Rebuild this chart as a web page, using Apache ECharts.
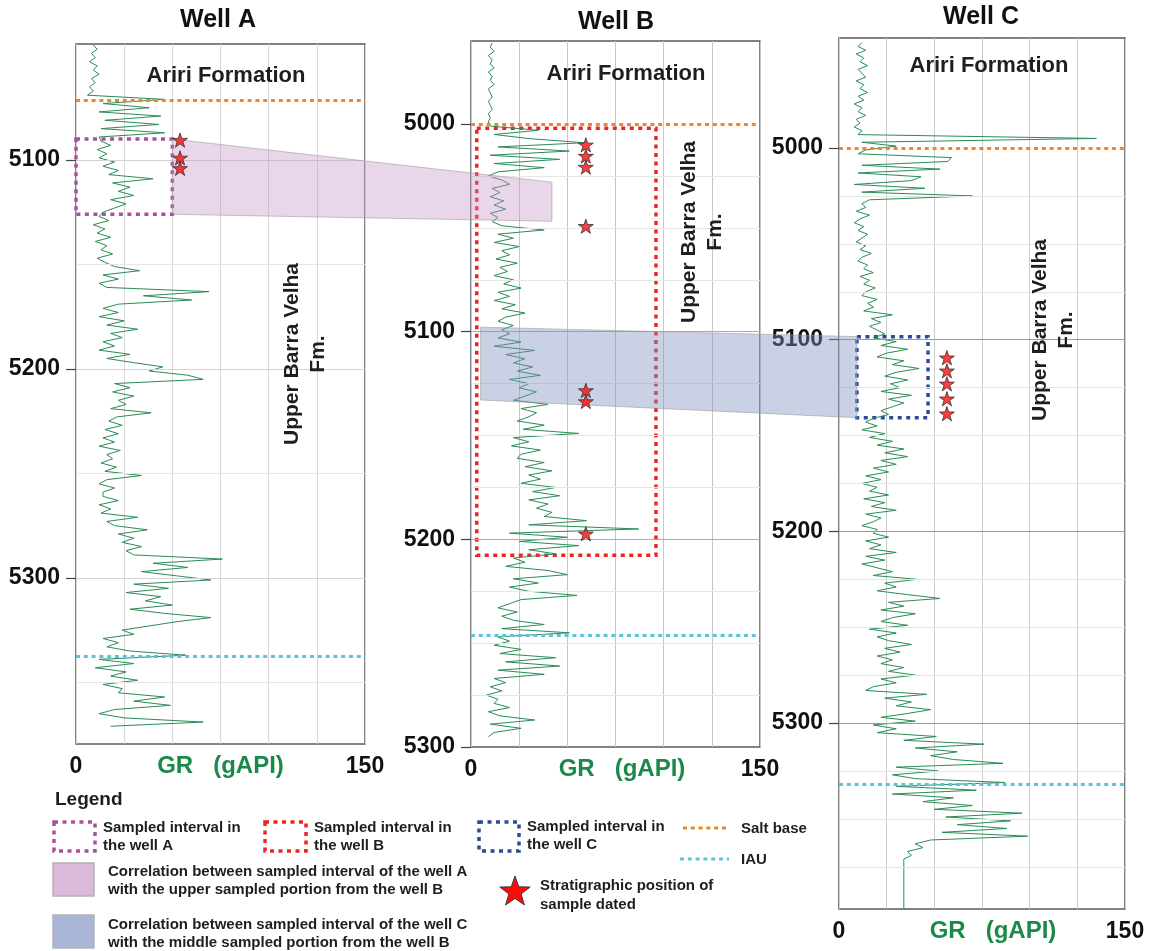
<!DOCTYPE html>
<html><head><meta charset="utf-8">
<script src="https://cdn.jsdelivr.net/npm/echarts@6/dist/echarts.min.js"></script>
<style>html,body{margin:0;padding:0;background:#fff}#c{width:1153px;height:951px}</style>
</head><body><div id="c"></div>
<script>
// ---------------- DATA ----------------
const wellNames = ['Well A', 'Well B', 'Well C'];
const grTickLabels = [0, 150];
const depthLabelsA = [5100, 5200, 5300];
const depthLabelsB = [5000, 5100, 5200, 5300];
const depthLabelsC = [5000, 5100, 5200, 5300];

// GR log (gAPI), sampled every 2 ft starting at the top depth of each well
const sampleStep = 2;
const wellA_top = 5045;
const wellA_gr = [9, 11, 8, 10, 7, 11, 9, 12, 8, 10, 7, 9, 6,
 46, 14, 38, 12, 44, 15, 43, 13, 46, 12,
 13, 18, 11, 16, 12, 20, 14, 22, 17, 40, 19, 28, 22, 30, 18, 26, 20, 14,
 12, 17, 9, 15, 11, 18, 10, 16, 13, 19, 11, 15,
 20, 33, 14, 22, 12,
 16, 69, 35, 60, 22,
 14, 22, 12, 25, 16, 32, 18, 24, 14, 20, 12, 28, 16,
 30, 45, 38, 58, 66,
 20, 28, 19, 30, 22, 26, 18, 39, 21, 17, 24, 15, 22, 14, 20, 12, 23, 16, 19, 13, 21, 15, 34, 16, 12, 20, 14,
 14, 22, 12, 18, 13, 32, 16, 20, 37, 22, 30, 24, 34, 26, 30,
 76, 40, 58, 34, 52, 70, 30, 48, 26, 44, 36, 50, 28, 46, 70,
 52, 38, 24, 30, 14, 22, 16, 28,
 57, 12, 30, 10, 26, 18, 32, 14, 24, 22, 46, 30, 49, 20, 12, 25, 66, 18];

const wellB_top = 4961;
const wellB_gr = [11, 10, 12, 9, 11, 10, 12, 9, 11, 10, 12, 9, 10, 11, 9, 10, 11, 9, 10, 9,
 10, 35, 12, 30, 59, 14, 51, 10, 46, 12,
 38, 14, 9, 16, 20, 11, 15, 10, 17, 12, 18, 10, 14, 11, 16,
 38, 14, 22, 12, 25, 16, 20, 13, 24, 15, 19, 12, 22, 17, 26, 14, 20, 12, 23, 16, 28, 18, 14, 22, 16,
 20, 14, 26, 12, 33, 18, 28, 22, 32, 24, 36, 20, 30, 25, 34,
 28, 22, 40, 26, 34, 30, 24, 38, 27, 56, 22, 30, 21, 36, 26,
 24, 38, 28, 42, 30, 36, 26, 44, 32, 46, 30, 40, 34, 42, 38,
 60, 30, 87, 20, 50, 25, 56, 30, 44, 22,
 28, 18, 40, 50, 22, 35, 20, 30, 55, 26, 20, 14, 24, 16, 22,
 38, 16, 51, 14, 20, 12, 26, 15, 44, 18, 46, 14, 38, 12, 18,
 10, 16, 8, 14, 12, 20, 9, 15, 33, 10, 26, 12, 9];

const wellC_top = 4945;
const wellC_gr = [12, 10, 14, 9, 13, 11, 15, 10, 12, 14, 9, 13, 11, 15, 10, 13, 8, 12, 10, 14, 9, 11, 8, 12, 10,
 135,
 12, 30, 14, 10, 59, 57, 12, 53, 10, 43, 38, 8, 45, 12, 70, 16, 12,
 14, 9, 16, 11, 8, 13, 10, 15, 12, 9, 14, 11, 17, 12, 10, 15, 13, 18, 11, 16, 13, 19, 14, 12, 20, 15, 18, 13, 28, 17, 22, 16, 20,
 24, 18, 30, 22, 36, 25, 20, 34, 28, 42, 30, 24, 36, 27, 32, 22, 38, 26, 34, 28, 22, 26, 18,
 14, 20, 12, 24, 16, 28, 20, 34, 24, 36, 22, 30, 18, 26, 14, 22, 12, 20, 16, 26, 13, 24, 17, 30, 14, 22, 18, 12, 20,
 18, 26, 14, 22, 16, 30, 14, 24, 12, 20, 28, 18, 41, 24, 30, 20, 36, 53, 26, 34, 22, 40, 28,
 22, 36, 16, 30, 20, 26, 38, 24, 32, 20, 28, 22, 34, 26, 40, 22, 30, 18, 14, 46, 24, 38, 30, 48, 36, 22, 40,
 18, 30, 20, 51, 34, 76, 40, 62, 48, 60, 86, 30, 52, 28,
 40, 87, 30, 72, 28, 60, 44, 70, 50, 96, 56, 90, 62, 88, 54, 99,
 48, 40, 44, 36, 38, 34,
 34, 34, 34, 34, 34, 34, 34, 34, 34, 34, 34, 34, 34];

// formation tops (depth)
const saltBaseDepth = [5071.3, 5000, 5000];
const iauDepth = [5337.3, 5246.3, 5331.8];

// sampled intervals [top, base] and dated sample depths
const sampledIntervalA = [5090, 5126];
const sampledIntervalB = [5002, 5207.7];
const sampledIntervalC = [5098.4, 5140.7];
const datedSamplesA = [5090.5, 5099, 5104];
const datedSamplesB = [5010, 5015.4, 5020.7, 5049.2, 5128.3, 5133.6, 5197.3];
const datedSamplesC = [5109.4, 5116.2, 5123, 5130.8, 5138.6];

// correlations: depth pairs on each well
const corrA_fromA = [5090, 5126];
const corrA_toB = [5028, 5046.8];
const corrC_fromB = [5097.8, 5132.9];
const corrC_toC = [5098.4, 5140.7];

// depth grid lines
const gridMajorA = [5100, 5200, 5300];
const gridMinorA = [5150, 5250, 5350];
const gridMajorB = [5100, 5200];
const gridMinorB = [5025, 5050, 5075, 5125, 5150, 5175, 5225, 5250, 5275];
const gridMajorC = [5100, 5200, 5300];
const gridMinorC = [5025, 5050, 5075, 5125, 5150, 5175, 5225, 5250, 5275, 5325, 5350, 5375];

// ---------------- CHART ----------------
const FONT = '"Liberation Sans", Arial, Helvetica, sans-serif';
const STAR = 'path://M0,-10 L2.245,-3.09 L9.511,-3.09 L3.633,1.18 L5.878,8.09 L0,3.82 L-5.878,8.09 L-3.633,1.18 L-9.511,-3.09 L-2.245,-3.09 Z';

const wells = [
  {gr: wellA_gr, top: wellA_top, yMin: 5044.5, yMax: 5379.5, labels: depthLabelsA, major: gridMajorA, minor: gridMinorA,
   box: sampledIntervalA, boxGR: [0, 50], boxColor: '#aa4fa0', stars: datedSamplesA, starGR: 54,
   grid: {left: 76, top: 44, width: 289, height: 700}, vColor: '#d8d8d8', majorColor: '#d2d2d2', namePad: 0},
  {gr: wellB_gr, top: wellB_top, yMin: 4960, yMax: 5300, labels: depthLabelsB, major: gridMajorB, minor: gridMinorB,
   box: sampledIntervalB, boxGR: [3, 96], boxColor: '#ee2424', stars: datedSamplesB, starGR: 59.6,
   grid: {left: 471, top: 41, width: 289, height: 706}, vColor: '#c8c8c8', majorColor: '#aaaaaa', namePad: 13},
  {gr: wellC_gr, top: wellC_top, yMin: 4942.6, yMax: 5397, labels: depthLabelsC, major: gridMajorC, minor: gridMinorC,
   box: sampledIntervalC, boxGR: [9.4, 46.7], boxColor: '#2a4a9c', stars: datedSamplesC, starGR: 56.6,
   grid: {left: 839, top: 38, width: 286, height: 871}, vColor: '#cccccc', majorColor: '#9a9a9a', namePad: 22}
];

const grids = [], xAxes = [], yAxes = [], series = [];
wells.forEach((w, i) => {
  grids.push(Object.assign({show: true, borderColor: '#5a5a5a', borderWidth: 1.5, backgroundColor: 'rgba(0,0,0,0)'}, w.grid));
  xAxes.push({
    type: 'value', gridIndex: i, min: 0, max: 150, interval: 25, position: 'bottom',
    axisLine: {show: false}, axisTick: {show: false},
    axisLabel: {customValues: grTickLabels, fontSize: 23, fontWeight: 'bold', color: '#111', margin: 11, fontFamily: FONT},
    splitLine: {show: true, lineStyle: {color: w.vColor, width: 1}},
    name: 'GR   (gAPI)', nameLocation: 'middle', nameGap: 10, nameMoveOverlap: false,
    nameTextStyle: {color: '#1b8a48', fontSize: 24, fontWeight: 'bold', fontFamily: FONT, verticalAlign: 'top', padding: [0, 0, 0, w.namePad]}
  });
  yAxes.push({
    type: 'value', gridIndex: i, inverse: true, min: w.yMin, max: w.yMax,
    axisLine: {show: false},
    axisTick: {show: true, customValues: w.labels, length: 10, lineStyle: {color: '#444', width: 1.2}},
    axisLabel: {customValues: w.labels, formatter: v => String(v), fontSize: 23, fontWeight: 'bold', color: '#111', margin: 16, fontFamily: FONT},
    splitLine: {show: false}
  });
  // depth grid lines
  series.push({
    type: 'line', xAxisIndex: i, yAxisIndex: i, data: [], z: 1, silent: true,
    markLine: {silent: true, symbol: ['none', 'none'], label: {show: false}, animation: false,
      data: w.minor.map(d => ({yAxis: d, lineStyle: {color: '#e6e6e6', width: 1, type: 'solid'}}))
        .concat(w.major.map(d => ({yAxis: d, lineStyle: {color: w.majorColor, width: 1, type: 'solid'}})))}
  });
  // GR curve
  series.push({
    type: 'line', name: wellNames[i] + ' GR', xAxisIndex: i, yAxisIndex: i, z: 2, silent: true,
    showSymbol: false, symbol: 'none',
    lineStyle: {color: '#2a8c55', width: 1},
    data: w.gr.map((g, k) => [g, w.top + k * sampleStep])
  });
  // formation tops + sampled interval
  series.push({
    type: 'line', xAxisIndex: i, yAxisIndex: i, data: [], z: 3, silent: true,
    markLine: {silent: true, symbol: ['none', 'none'], label: {show: false}, animation: false,
      data: [
        {yAxis: saltBaseDepth[i], lineStyle: {color: '#f0852a', width: 3, type: [4, 3.8]}},
        {yAxis: iauDepth[i], lineStyle: {color: '#5bc3dc', width: 3, type: [4, 3.8]}}
      ]},
    markArea: {silent: true, animation: false,
      itemStyle: {color: 'rgba(0,0,0,0)', borderColor: w.boxColor, borderWidth: 3.5, borderType: [4, 4.5]},
      data: [[{coord: [w.boxGR[0], w.box[0]]}, {coord: [w.boxGR[1], w.box[1]]}]]}
  });
  // dated samples
  series.push({
    type: 'scatter', name: 'Dated samples ' + wellNames[i], xAxisIndex: i, yAxisIndex: i, z: 10, silent: true,
    symbol: STAR, symbolSize: 15, symbolKeepAspect: true,
    itemStyle: {color: '#ff0a0a', borderColor: '#333', borderWidth: 1},
    data: w.stars.map(d => [w.starGR, d])
  });
});

const chart = echarts.init(document.getElementById('c'));
chart.setOption({
  backgroundColor: '#ffffff', animation: false,
  textStyle: {fontFamily: FONT},
  grid: grids, xAxis: xAxes, yAxis: yAxes, series: series
});

// --------- graphics: correlations, annotations, legend ---------
function px(i, gr, d) { return chart.convertToPixel({gridIndex: i}, [gr, d]); }
function txt(x, y, text, size, opts) {
  return Object.assign({type: 'text', x: x, y: y, z: 20, silent: true,
    style: Object.assign({text: text, fontSize: size, fontWeight: 'bold', fontFamily: FONT, fill: '#1e1e1e',
      align: 'left', verticalAlign: 'middle'}, (opts && opts.style) || {})}, (opts && opts.el) || {});
}
function starPts(cx, cy, R) {
  const r = R * 0.4, pts = [];
  for (let k = 0; k < 10; k++) {
    const a = -Math.PI / 2 + k * Math.PI / 5, rr = k % 2 ? r : R;
    pts.push([cx + rr * Math.cos(a), cy + rr * Math.sin(a)]);
  }
  return pts;
}

const g = [];
// correlation polygons
g.push({type: 'polygon', z: 5, silent: true,
  shape: {points: [px(0, 50, corrA_fromA[0]), px(1, 42, corrA_toB[0]), px(1, 42, corrA_toB[1]), px(0, 50, corrA_fromA[1])]},
  style: {fill: 'rgba(196,140,196,0.36)', stroke: 'rgba(150,150,150,0.55)', lineWidth: 1}});
g.push({type: 'polygon', z: 5, silent: true,
  shape: {points: [px(1, 5, corrC_fromB[0]), px(2, 9.4, corrC_toC[0]), px(2, 9.4, corrC_toC[1]), px(1, 5, corrC_fromB[1])]},
  style: {fill: 'rgba(128,146,192,0.42)', stroke: 'rgba(150,150,150,0.55)', lineWidth: 1}});

// titles
g.push(txt(218, 20, wellNames[0], 25, {style: {align: 'center', fill: '#111'}}));
g.push(txt(616, 22, wellNames[1], 25, {style: {align: 'center', fill: '#111'}}));
g.push(txt(981, 17, wellNames[2], 25, {style: {align: 'center', fill: '#111'}}));
// formations
g.push(txt(226, 76, 'Ariri Formation', 22, {style: {align: 'center'}}));
g.push(txt(626, 74, 'Ariri Formation', 22, {style: {align: 'center'}}));
g.push(txt(989, 66, 'Ariri Formation', 22, {style: {align: 'center'}}));
const ubv = 'Upper Barra Velha\nFm.';
[[305, 354], [702, 232], [1053, 330]].forEach(p => {
  g.push(txt(p[0], p[1], ubv, 21, {style: {align: 'center', lineHeight: 26}, el: {rotation: Math.PI / 2}}));
});

// legend
g.push(txt(55, 800, 'Legend', 19));
const lg = 15;
g.push({type: 'rect', z: 20, silent: true, shape: {x: 54, y: 822, width: 41, height: 29},
  style: {fill: 'rgba(0,0,0,0)', stroke: '#aa4fa0', lineWidth: 3.5, lineDash: [4, 4.5]}});
g.push(txt(103, 837, 'Sampled interval in\nthe well A', lg, {style: {lineHeight: 18}}));
g.push({type: 'rect', z: 20, silent: true, shape: {x: 265, y: 822, width: 41, height: 29},
  style: {fill: 'rgba(0,0,0,0)', stroke: '#ee2424', lineWidth: 3.5, lineDash: [4, 4.5]}});
g.push(txt(314, 837, 'Sampled interval in\nthe well B', lg, {style: {lineHeight: 18}}));
g.push({type: 'rect', z: 20, silent: true, shape: {x: 479, y: 822, width: 40, height: 29},
  style: {fill: 'rgba(0,0,0,0)', stroke: '#2a4a9c', lineWidth: 3.5, lineDash: [4, 4.5]}});
g.push(txt(527, 836, 'Sampled interval in\nthe well C', lg, {style: {lineHeight: 18}}));
g.push({type: 'line', z: 20, silent: true, shape: {x1: 683, y1: 828, x2: 729, y2: 828},
  style: {stroke: '#f0852a', lineWidth: 3, lineDash: [4, 3.8]}});
g.push(txt(741, 829, 'Salt base', lg));
g.push({type: 'line', z: 20, silent: true, shape: {x1: 680, y1: 859, x2: 729, y2: 859},
  style: {stroke: '#5bc3dc', lineWidth: 3, lineDash: [4, 3.8]}});
g.push(txt(741, 860, 'IAU', lg));
g.push({type: 'rect', z: 20, silent: true, shape: {x: 53, y: 863, width: 41, height: 33},
  style: {fill: '#dbb9d8', stroke: '#b4b4b4', lineWidth: 1.5}});
g.push(txt(108, 881, 'Correlation between sampled interval of the well A\nwith the upper sampled portion from the well B', lg, {style: {lineHeight: 18}}));
g.push({type: 'rect', z: 20, silent: true, shape: {x: 53, y: 915, width: 41, height: 33},
  style: {fill: '#a9b5d6', stroke: '#b4b4b4', lineWidth: 1.5}});
g.push(txt(108, 934, 'Correlation between sampled interval of the well C\nwith the middle sampled portion from the well B', lg, {style: {lineHeight: 18}}));
g.push({type: 'polygon', z: 20, silent: true, shape: {points: starPts(515, 892, 16)},
  style: {fill: '#ff0a0a', stroke: '#3a3a3a', lineWidth: 1}});
g.push(txt(540, 895, 'Stratigraphic position of\nsample dated', lg, {style: {lineHeight: 19}}));

chart.setOption({graphic: g});
</script>
</body></html>
